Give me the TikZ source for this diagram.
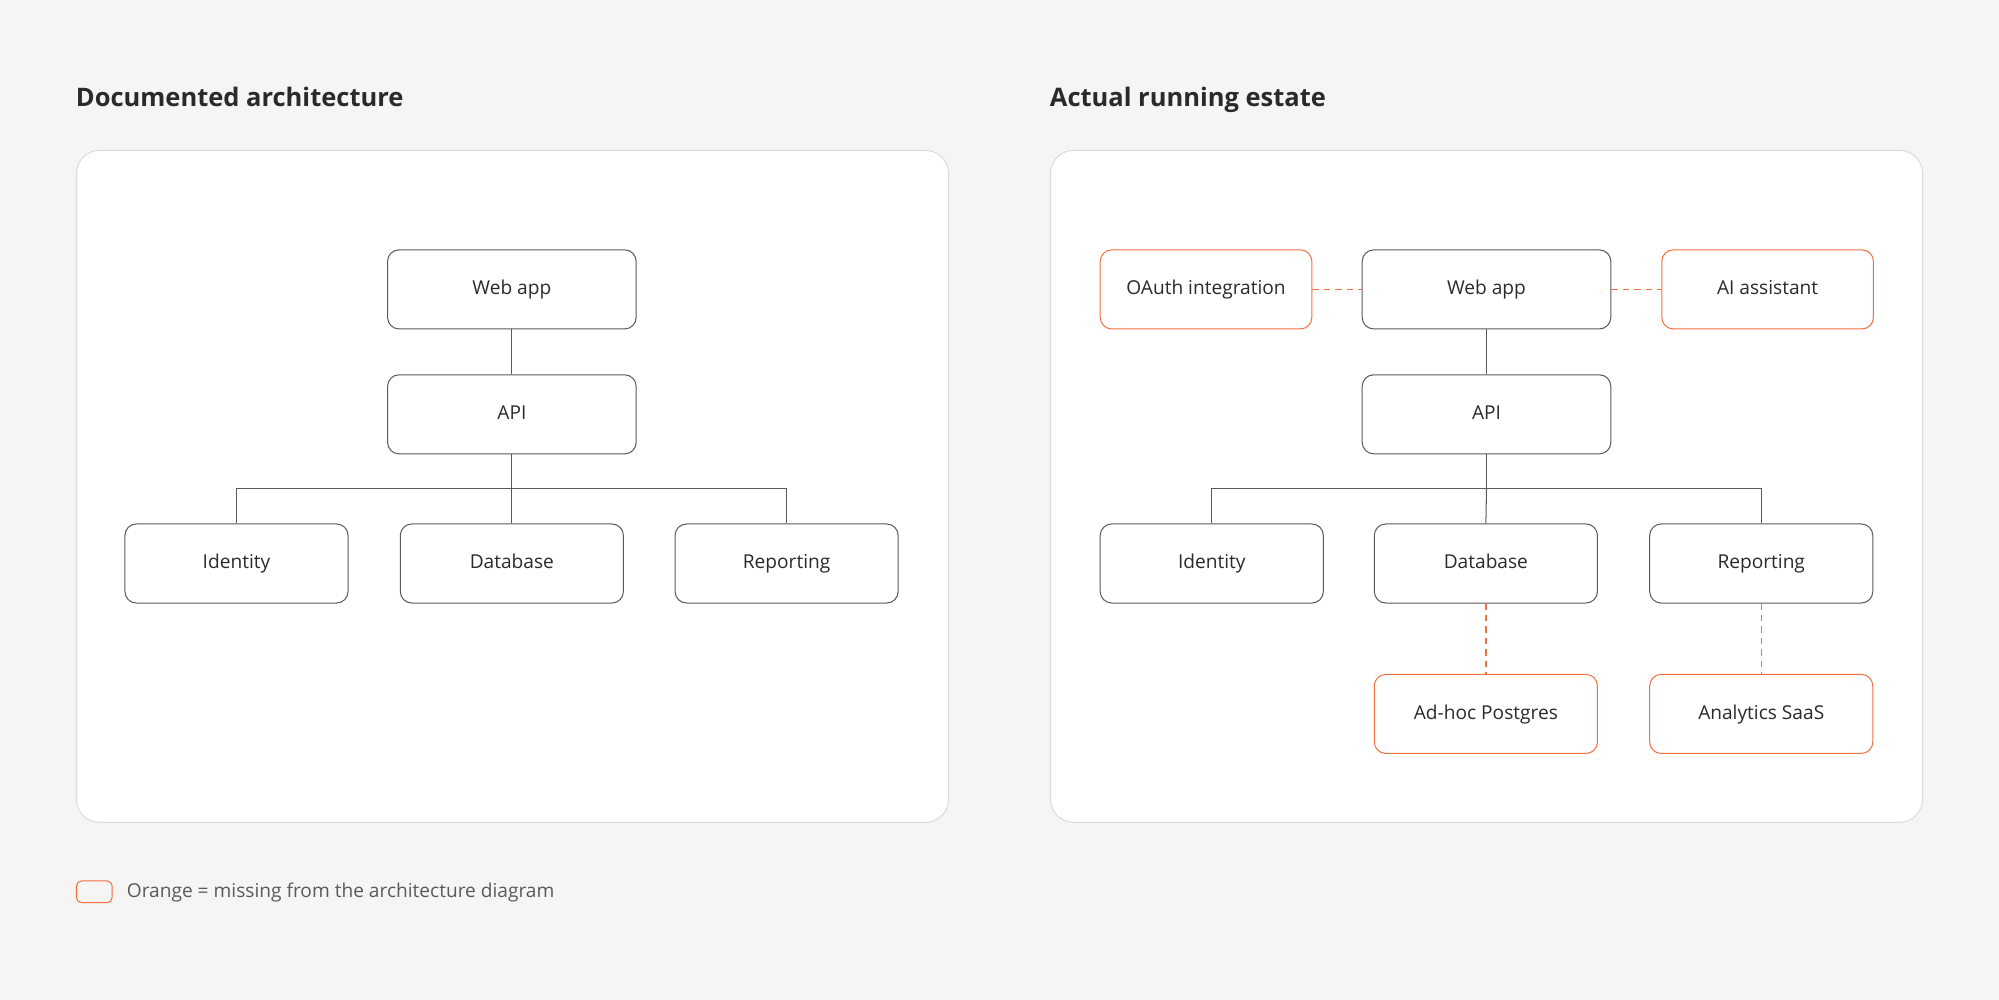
\documentclass[tikz,border=0pt]{standalone}
\usepackage{fontspec}
\setmainfont{Open Sans}
\definecolor{bg}{HTML}{F6F5F3}
\definecolor{panelb}{HTML}{DEDCD8}
\definecolor{boxb}{HTML}{5A5A5A}
\definecolor{org}{HTML}{F07040}
\definecolor{txt}{HTML}{2A2A2A}
\begin{document}
\begin{tikzpicture}[x=1pt,y=-1pt,
  panel/.style={draw=panelb,fill=white,rounded corners=18pt,line width=0.8pt},
  box/.style={draw=boxb,fill=white,rounded corners=9pt,line width=0.8pt,font=\fontsize{15}{18}\selectfont,text=txt,text height=11pt,text depth=3pt},
  obox/.style={box,draw=org},
  conn/.style={draw=boxb,line width=0.8pt},
  dconn/.style={draw=org,line width=1pt,dash pattern=on 5pt off 4pt},
  title/.style={font=\fontsize{20}{24}\selectfont\bfseries,text=txt,anchor=west,text height=15pt,text depth=4pt}]
\fill[bg] (0,0) rectangle (1568,784);
\useasboundingbox (0,0) rectangle (1568,784);
\node[title] (t1) at (56,78) {Documented architecture};
\node[title] (t2) at (820,78) {Actual running estate};
\path[panel] (60,118) rectangle (744,645);
\path[panel] (824,118) rectangle (1508,645);
% left
\node[box,minimum width=195pt,minimum height=62pt] (lw) at (401.5,227) {Web app};
\node[box,minimum width=195pt,minimum height=62pt] (la) at (401.5,325) {API};
\node[box,minimum width=175pt,minimum height=62pt] (li) at (185.5,442) {Identity};
\node[box,minimum width=175pt,minimum height=62pt] (ld) at (401.5,442) {Database};
\node[box,minimum width=175pt,minimum height=62pt] (lr) at (617,442) {Reporting};
\coordinate (lbus) at (401.5,383);
\draw[conn] (lw) -- (la);
\draw[conn] (la) -- (lbus);
\draw[conn] (li.north) |- (lbus) -| (lr.north);
\draw[conn] (lbus) -- (ld.north);
% right
\node[box,minimum width=195pt,minimum height=62pt] (rw) at (1166,227) {Web app};
\node[obox,minimum width=166pt,minimum height=62pt] (ro) at (946,227) {OAuth integration};
\node[obox,minimum width=166pt,minimum height=62pt] (rai) at (1386.5,227) {AI assistant};
\node[box,minimum width=195pt,minimum height=62pt] (ra) at (1166,325) {API};
\node[box,minimum width=175pt,minimum height=62pt] (ri) at (950.5,442) {Identity};
\node[box,minimum width=175pt,minimum height=62pt] (rd) at (1165.5,442) {Database};
\node[box,minimum width=175pt,minimum height=62pt] (rr) at (1381.5,442) {Reporting};
\node[obox,minimum width=175pt,minimum height=62pt] (rp) at (1165.5,560) {Ad-hoc Postgres};
\node[obox,minimum width=175pt,minimum height=62pt] (rs) at (1381.5,560) {Analytics SaaS};
\coordinate (rbus) at (1166,383);
\draw[conn] (rw) -- (ra);
\draw[conn] (ra) -- (rbus);
\draw[conn] (ri.north) |- (rbus) -| (rr.north);
\draw[conn] (rbus) -- (rd.north);
\draw[dconn] (ro) -- (rw);
\draw[dconn] (rw) -- (rai);
\draw[dconn] (rd) -- (rp);
\draw[dconn] (rr) -- (rs);
% legend
\node[draw=org,fill=none,rounded corners=4pt,line width=0.8pt,minimum width=28pt,minimum height=17pt] (lg) at (74,699.5) {};
\node[anchor=west,font=\fontsize{15}{18}\selectfont,text=boxb,text height=11pt,text depth=3pt] (lgt) at (96,700) {Orange = missing from the architecture diagram};
\end{tikzpicture}
\end{document}
